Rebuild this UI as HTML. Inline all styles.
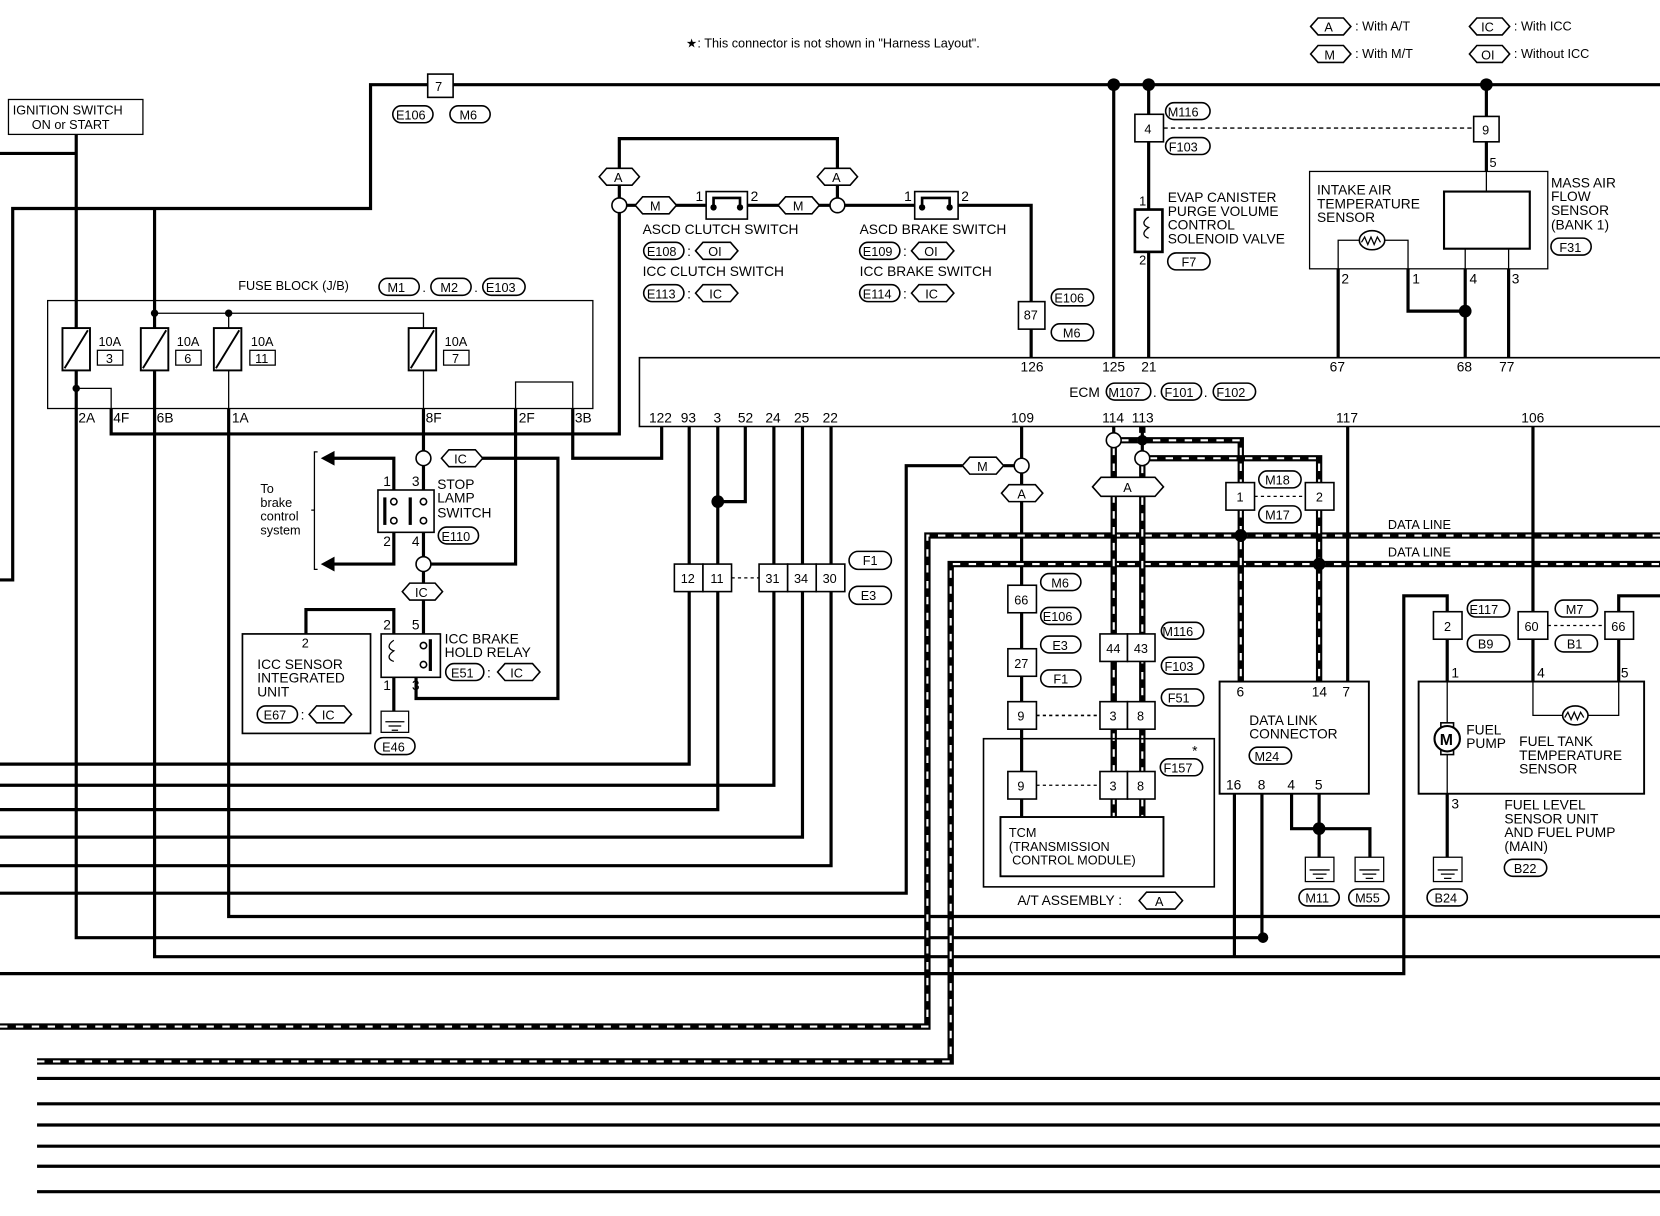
<!DOCTYPE html>
<html><head><meta charset="utf-8"><style>
html,body{margin:0;padding:0;background:#fff}
svg{display:block}
text{font-family:"Liberation Sans",Arial,sans-serif;font-size:13px;fill:#000}
.w{fill:none;stroke:#000;stroke-width:3}
.t{fill:none;stroke:#000;stroke-width:1.2}
.b{fill:#fff;stroke:#000;stroke-width:1.5}
.dl{fill:none;stroke:#000;stroke-width:6}
.dw{fill:none;stroke:#fff;stroke-width:2;stroke-dasharray:7 8}
.s{font-size:12px}
</style></head><body>
<svg width="1660" height="1216" viewBox="0 0 1568 1149" preserveAspectRatio="none" xmlns="http://www.w3.org/2000/svg">
<!-- header -->
<text x="648" y="45" class="s">★: This connector is not shown in "Harness Layout".</text>
<polygon class="b" points="1238,25 1245,17 1269,17 1276,25 1269,33 1245,33"/><text x="1251" y="30" class="s">A</text><text x="1280" y="29" class="s">: With A/T</text>
<polygon class="b" points="1238,51 1245,43 1269,43 1276,51 1269,59 1245,59"/><text x="1251" y="56" class="s">M</text><text x="1280" y="55" class="s">: With M/T</text>
<polygon class="b" points="1388,25 1395,17 1419,17 1426,25 1419,33 1395,33"/><text x="1399" y="30" class="s">IC</text><text x="1430" y="29" class="s">: With ICC</text>
<polygon class="b" points="1388,51 1395,43 1419,43 1426,51 1419,59 1395,59"/><text x="1399" y="56" class="s">OI</text><text x="1430" y="55" class="s">: Without ICC</text>

<!-- top bus and left -->
<path class="w" d="M0,548 H12 V197 H350 V80 H1568"/>
<rect class="b" x="404" y="70" width="24" height="22"/><text x="411" y="86" class="s">7</text>
<rect class="b" x="371" y="100" width="38" height="16" rx="8"/><text x="374" y="113" class="s">E106</text>
<rect class="b" x="425" y="100" width="38" height="16" rx="8"/><text x="434" y="113" class="s">M6</text>
<rect class="t" x="8" y="94" width="127" height="33"/>
<text x="12" y="108" class="s">IGNITION SWITCH</text><text x="30" y="122" class="s">ON or START</text>
<path class="w" d="M0,145 H72 M72,127 V310 M72,350 V386"/>
<path class="w" d="M72,386 V886 H1193"/>
<circle cx="1193" cy="886" r="5"/>
<path class="w" d="M146,197 V310 M146,350 V904 H1568"/>
<path class="w" d="M216,386 V866 H1568"/>

<!-- fuse block -->
<text x="225" y="274" class="s">FUSE BLOCK (J/B)</text>
<rect class="b" x="358" y="263" width="38" height="16" rx="8"/><text x="366" y="276" class="s">M1</text>
<text x="399" y="276" class="s">.</text>
<rect class="b" x="407" y="263" width="38" height="16" rx="8"/><text x="416" y="276" class="s">M2</text>
<text x="448" y="276" class="s">.</text>
<rect class="b" x="456" y="263" width="40" height="16" rx="8"/><text x="459" y="276" class="s">E103</text>
<rect class="t" x="45" y="284" width="515" height="102"/>
<path class="t" d="M146,296 H400 V310 M216,296 V310 M216,350 V386 M400,350 V386 M72,367 H105 V386 M487,386 V361 H541 V386"/>
<circle cx="146" cy="296" r="3.5"/><circle cx="216" cy="296" r="3.5"/><circle cx="72" cy="367" r="3.5"/>
<g class="b" style="stroke-width:1.8">
<rect x="59" y="310" width="26" height="40"/><rect x="133" y="310" width="26" height="40"/><rect x="202" y="310" width="26" height="40"/><rect x="386" y="310" width="26" height="40"/>
</g>
<path class="t" style="stroke-width:1.8" d="M61,348 L83,312 M135,348 L157,312 M204,348 L226,312 M388,348 L410,312"/>
<text x="93" y="327" class="s">10A</text><rect class="t" x="92" y="331" width="24" height="14"/><text x="100" y="343" class="s">3</text>
<text x="167" y="327" class="s">10A</text><rect class="t" x="166" y="331" width="24" height="14"/><text x="174" y="343" class="s">6</text>
<text x="237" y="327" class="s">10A</text><rect class="t" x="236" y="331" width="24" height="14"/><text x="241" y="343" class="s">11</text>
<text x="420" y="327" class="s">10A</text><rect class="t" x="419" y="331" width="24" height="14"/><text x="427" y="343" class="s">7</text>
<g class="s"><text x="74" y="399">2A</text><text x="107" y="399">4F</text><text x="148" y="399">6B</text><text x="219" y="399">1A</text><text x="402" y="399">8F</text><text x="490" y="399">2F</text><text x="543" y="399">3B</text></g>
<path class="w" d="M105,386 V410 H585 V201"/>
<path class="w" d="M541,386 V433 H625 V403"/>
<path class="w" d="M487,386 V533 H407"/>

<!-- stop lamp -->
<path class="w" d="M400,386 V426 M400,440 V471 M400,497 V526 M400,540 V599"/>
<path class="w" d="M443,433 H527 V660 H393 V640"/>
<circle class="b" cx="400" cy="433" r="7"/><circle class="b" cx="400" cy="533" r="7"/>
<polygon class="b" points="417,433 424,425 449,425 456,433 449,441 424,441"/><text x="429" y="438" class="s">IC</text>
<polygon class="b" points="380,559 387,551 411,551 418,559 411,567 387,567"/><text x="392" y="564" class="s">IC</text>
<path class="w" d="M372,471 V433 H312 M372,497 V533 H312"/>
<polygon points="303,433 316,426 316,440"/><polygon points="303,533 316,526 316,540"/>
<path class="t" d="M300,427 H297 V538 H300 M297,482 H294"/>
<text x="246" y="466" class="s">To</text><text x="246" y="479" class="s">brake</text><text x="246" y="492" class="s">control</text><text x="246" y="505" class="s">system</text>
<rect class="b" x="357" y="463" width="53" height="40"/>
<rect x="362" y="470" width="3" height="26"/><rect x="386" y="470" width="3" height="26"/>
<circle class="b" cx="372" cy="474" r="3"/><circle class="b" cx="372" cy="492" r="3"/><circle class="b" cx="400" cy="474" r="3"/><circle class="b" cx="400" cy="492" r="3"/>
<g class="s"><text x="362" y="459">1</text><text x="389" y="459">3</text><text x="362" y="516">2</text><text x="389" y="516">4</text></g>
<text x="413" y="462">STOP</text><text x="413" y="475">LAMP</text><text x="413" y="489">SWITCH</text>
<rect class="b" x="414" y="498" width="38" height="16" rx="8"/><text x="417" y="511" class="s">E110</text>

<!-- ICC sensor / relay -->
<path class="w" d="M289,599 V576 H372 V599 M372,640 V672"/>
<rect class="t" style="stroke-width:1.6" x="229" y="599" width="121" height="94"/>
<text x="285" y="612" class="s">2</text>
<text x="243" y="632">ICC SENSOR</text><text x="243" y="645">INTEGRATED</text><text x="243" y="658">UNIT</text>
<rect class="b" x="243" y="667" width="38" height="16" rx="8"/><text x="249" y="680" class="s">E67</text><text x="284" y="680">:</text>
<polygon class="b" points="292,675 299,667 325,667 332,675 325,683 299,683"/><text x="304" y="680" class="s">IC</text>
<rect class="b" x="360" y="599" width="56" height="41"/>
<rect x="405" y="604" width="3" height="30"/>
<circle class="b" cx="400" cy="610" r="3"/><circle class="b" cx="400" cy="628" r="3"/>
<path class="t" d="M372,605 c-6,4 -6,8 0,10 c-6,4 -6,8 0,10"/>
<g class="s"><text x="362" y="595">2</text><text x="389" y="595">5</text><text x="362" y="652">1</text><text x="389" y="652">3</text></g>
<text x="420" y="608">ICC BRAKE</text><text x="420" y="621">HOLD RELAY</text>
<rect class="b" x="421" y="627" width="36" height="16" rx="8"/><text x="426" y="640" class="s">E51</text><text x="460" y="640">:</text>
<polygon class="b" points="470,635 477,627 503,627 510,635 503,643 477,643"/><text x="482" y="640" class="s">IC</text>
<rect class="t" x="360" y="672" width="26" height="20"/><path class="t" d="M364,682 H382 M367,686 H379 M370,690 H376"/>
<rect class="b" x="354" y="697" width="38" height="16" rx="8"/><text x="361" y="710" class="s">E46</text>

<!-- A/M loop + switches -->
<path class="w" d="M585,187 V131 H791 V187 M592,194 H667 M706,194 H784 M798,194 H864 M905,194 H974 V338"/>
<polygon class="b" points="566,167 573,159 597,159 604,167 597,175 573,175"/><text x="580" y="172" class="s">A</text>
<polygon class="b" points="772,167 779,159 803,159 810,167 803,175 779,175"/><text x="786" y="172" class="s">A</text>
<circle class="b" cx="585" cy="194" r="7"/><circle class="b" cx="791" cy="194" r="7"/>
<polygon class="b" points="600,194 607,186 632,186 639,194 632,202 607,202"/><text x="614" y="199" class="s">M</text>
<polygon class="b" points="735,194 742,186 767,186 774,194 767,202 742,202"/><text x="749" y="199" class="s">M</text>
<rect class="b" x="667" y="181" width="39" height="26"/><path class="w" style="stroke-width:2.5" d="M674,196 V187 H699 V196"/><circle cx="674" cy="196" r="3"/><circle cx="699" cy="196" r="3"/>
<rect class="b" x="864" y="181" width="41" height="26"/><path class="w" style="stroke-width:2.5" d="M871,196 V187 H897 V196"/><circle cx="871" cy="196" r="3"/><circle cx="897" cy="196" r="3"/>
<g class="s"><text x="657" y="190">1</text><text x="709" y="190">2</text><text x="854" y="190">1</text><text x="908" y="190">2</text></g>
<text x="607" y="221">ASCD CLUTCH SWITCH</text>
<rect class="b" x="608" y="229" width="38" height="16" rx="8"/><text x="611" y="242" class="s">E108</text><text x="649" y="242">:</text>
<polygon class="b" points="657,237 664,229 690,229 697,237 690,245 664,245"/><text x="669" y="242" class="s">OI</text>
<text x="607" y="261">ICC CLUTCH SWITCH</text>
<rect class="b" x="608" y="269" width="38" height="16" rx="8"/><text x="611" y="282" class="s">E113</text><text x="649" y="282">:</text>
<polygon class="b" points="657,277 664,269 690,269 697,277 690,285 664,285"/><text x="670" y="282" class="s">IC</text>
<text x="812" y="221">ASCD BRAKE SWITCH</text>
<rect class="b" x="812" y="229" width="38" height="16" rx="8"/><text x="815" y="242" class="s">E109</text><text x="853" y="242">:</text>
<polygon class="b" points="861,237 868,229 894,229 901,237 894,245 868,245"/><text x="873" y="242" class="s">OI</text>
<text x="812" y="261">ICC BRAKE SWITCH</text>
<rect class="b" x="812" y="269" width="38" height="16" rx="8"/><text x="815" y="282" class="s">E114</text><text x="853" y="282">:</text>
<polygon class="b" points="861,277 868,269 894,269 901,277 894,285 868,285"/><text x="874" y="282" class="s">IC</text>
<rect class="b" x="962" y="285" width="25" height="26"/><text x="967" y="302" class="s">87</text>
<rect class="b" x="993" y="273" width="40" height="16" rx="8"/><text x="996" y="286" class="s">E106</text>
<rect class="b" x="993" y="306" width="40" height="16" rx="8"/><text x="1004" y="319" class="s">M6</text>

<!-- evap -->
<path class="w" d="M1052,80 V338 M1085,80 V338"/>
<circle cx="1052" cy="80" r="6"/><circle cx="1085" cy="80" r="6"/>
<rect class="b" x="1072" y="108" width="27" height="26"/><text x="1081" y="126" class="s">4</text>
<path class="t" style="stroke-dasharray:4 3" d="M1099,121 H1392"/>
<rect class="b" x="1101" y="97" width="42" height="16" rx="8"/><text x="1103" y="110" class="s">M116</text>
<rect class="b" x="1101" y="130" width="42" height="16" rx="8"/><text x="1104" y="143" class="s">F103</text>
<rect class="b" x="1072" y="198" width="26" height="40" style="stroke-width:2.5"/>
<path class="t" d="M1085,205 c-6,4 -6,8 0,10 c-6,4 -6,8 0,10"/>
<text x="1076" y="194" class="s">1</text><text x="1076" y="250" class="s">2</text>
<text x="1103" y="191">EVAP CANISTER</text><text x="1103" y="204">PURGE VOLUME</text><text x="1103" y="217">CONTROL</text><text x="1103" y="230">SOLENOID VALVE</text>
<rect class="b" x="1103" y="239" width="40" height="16" rx="8"/><text x="1116" y="252" class="s">F7</text>

<!-- MAF / IAT -->
<path class="w" d="M1404,80 V162"/><circle cx="1404" cy="80" r="6"/>
<rect class="b" x="1392" y="110" width="24" height="24"/><text x="1400" y="127" class="s">9</text>
<text x="1407" y="158" class="s">5</text>
<rect class="t" x="1237" y="162" width="225" height="92"/>
<rect class="t" style="stroke-width:2" x="1364" y="181" width="81" height="54"/>
<path class="t" d="M1404,162 V181 M1384,235 V254 M1425,235 V254 M1264,254 V227 H1284 M1308,227 H1330 V254"/>
<ellipse class="b" cx="1296" cy="227" rx="12" ry="9"/><path class="t" d="M1286,229 l3,-5 3,7 3,-7 3,7 3,-7 3,5"/>
<text x="1244" y="184">INTAKE AIR</text><text x="1244" y="197">TEMPERATURE</text><text x="1244" y="210">SENSOR</text>
<text x="1465" y="177">MASS AIR</text><text x="1465" y="190">FLOW</text><text x="1465" y="203">SENSOR</text><text x="1465" y="217">(BANK 1)</text>
<rect class="b" x="1465" y="225" width="38" height="16" rx="8"/><text x="1473" y="238" class="s">F31</text>
<path class="w" d="M1264,254 V338 M1330,254 V294 H1384 M1384,254 V338 M1425,254 V338"/>
<circle cx="1384" cy="294" r="6"/>
<g class="s"><text x="1267" y="268">2</text><text x="1334" y="268">1</text><text x="1388" y="268">4</text><text x="1428" y="268">3</text></g>

<!-- ECM -->
<path class="t" style="stroke-width:1.5" d="M1568,338 H604 V403 H1568"/>
<g class="s"><text x="964" y="351">126</text><text x="1041" y="351">125</text><text x="1078" y="351">21</text><text x="1256" y="351">67</text><text x="1376" y="351">68</text><text x="1416" y="351">77</text></g>
<text x="1010" y="375">ECM</text>
<rect class="b" x="1045" y="362" width="42" height="16" rx="8"/><text x="1047" y="375" class="s">M107</text><text x="1089" y="375">.</text>
<rect class="b" x="1097" y="362" width="38" height="16" rx="8"/><text x="1100" y="375" class="s">F101</text><text x="1137" y="375">.</text>
<rect class="b" x="1146" y="362" width="40" height="16" rx="8"/><text x="1149" y="375" class="s">F102</text>
<g class="s"><text x="613" y="399">122</text><text x="643" y="399">93</text><text x="674" y="399">3</text><text x="697" y="399">52</text><text x="723" y="399">24</text><text x="750" y="399">25</text><text x="777" y="399">22</text><text x="955" y="399">109</text><text x="1041" y="399">114</text><text x="1069" y="399">113</text><text x="1262" y="399">117</text><text x="1437" y="399">106</text></g>

<!-- ECM left pins -->
<path class="w" d="M651,403 V722 H0 M731,403 V742 H0 M678,403 V765 H0 M704,403 V474 H678 M758,403 V791 H0 M785,403 V818 H0"/>
<circle cx="678" cy="474" r="6"/>
<rect class="b" x="637" y="533" width="27" height="26"/><rect class="b" x="664" y="533" width="27" height="26"/>
<text x="643" y="551" class="s">12</text><text x="671" y="551" class="s">11</text>
<path class="t" style="stroke-dasharray:3 3" d="M691,546 H717"/>
<rect class="b" x="717" y="533" width="27" height="26"/><rect class="b" x="744" y="533" width="27" height="26"/><rect class="b" x="771" y="533" width="27" height="26"/>
<text x="723" y="551" class="s">31</text><text x="750" y="551" class="s">34</text><text x="777" y="551" class="s">30</text>
<rect class="b" x="802" y="521" width="40" height="17" rx="8.5"/><text x="815" y="534" class="s">F1</text>
<rect class="b" x="802" y="554" width="40" height="17" rx="8.5"/><text x="813" y="567" class="s">E3</text>

<!-- 109 / TCM -->
<path class="w" d="M965,403 V433 M958,440 H948 M909,440 H856 V844 H0 M965,447 V772"/>
<circle class="b" cx="965" cy="440" r="7"/>
<polygon class="b" points="909,440 916,432 941,432 948,440 941,448 916,448"/><text x="923" y="445" class="s">M</text>
<polygon class="b" points="946,466 953,458 978,458 985,466 978,474 953,474"/><text x="961" y="471" class="s">A</text>

<!-- data lines -->
<path class="dl" d="M0,970 H876 V506 H1568"/><path class="dw" d="M0,970 H876 V506 H1568"/>
<path class="dl" d="M35,1003 H898 V533 H1568"/><path class="dw" d="M35,1003 H898 V533 H1568"/>
<text x="1311" y="500" class="s">DATA LINE</text><text x="1311" y="526" class="s">DATA LINE</text>

<rect class="b" x="952" y="553" width="27" height="26"/><text x="958" y="571" class="s">66</text>
<rect class="b" x="983" y="542" width="38" height="16" rx="8"/><text x="993" y="555" class="s">M6</text>
<rect class="b" x="983" y="574" width="38" height="16" rx="8"/><text x="985" y="587" class="s">E106</text>
<rect class="b" x="952" y="613" width="27" height="26"/><text x="958" y="631" class="s">27</text>
<rect class="b" x="983" y="601" width="38" height="16" rx="8"/><text x="994" y="614" class="s">E3</text>
<rect class="b" x="983" y="633" width="38" height="16" rx="8"/><text x="995" y="646" class="s">F1</text>

<!-- 114/113 data lines -->
<path class="dl" d="M1052,423 V772 M1079,403 V409 M1079,440 V772 M1059,416 H1172 V456 M1086,433 H1246 V456 M1172,482 V644 M1246,482 V644"/>
<path class="dw" d="M1052,423 V772 M1079,440 V772 M1059,416 H1172 V456 M1086,433 H1246 V456 M1172,482 V644 M1246,482 V644"/>
<path class="w" d="M1052,403 V409 M1079,403 V426"/>
<circle class="b" cx="1052" cy="416" r="7"/><circle cx="1079" cy="416" r="5"/><circle class="b" cx="1079" cy="433" r="7"/>
<polygon class="b" points="1032,460 1040,451 1091,451 1099,460 1091,469 1040,469"/><text x="1061" y="465" class="s">A</text>
<rect class="b" x="1039" y="599" width="26" height="26"/><rect class="b" x="1065" y="599" width="26" height="26"/>
<text x="1045" y="617" class="s">44</text><text x="1071" y="617" class="s">43</text>
<rect class="b" x="1097" y="588" width="40" height="16" rx="8"/><text x="1098" y="601" class="s">M116</text>
<rect class="b" x="1097" y="621" width="40" height="16" rx="8"/><text x="1100" y="634" class="s">F103</text>
<rect class="b" x="1097" y="651" width="40" height="16" rx="8"/><text x="1103" y="664" class="s">F51</text>
<rect class="b" x="952" y="663" width="27" height="26"/><text x="961" y="681" class="s">9</text>
<path class="t" style="stroke-dasharray:3 3;stroke-width:1.5" d="M979,676 H1039"/>
<rect class="b" x="1039" y="663" width="26" height="26"/><rect class="b" x="1065" y="663" width="26" height="26"/>
<text x="1048" y="681" class="s">3</text><text x="1074" y="681" class="s">8</text>
<rect class="t" style="stroke-width:1.5" x="929" y="698" width="218" height="140"/>
<rect class="b" x="952" y="729" width="27" height="26"/><text x="961" y="747" class="s">9</text>
<path class="t" style="stroke-dasharray:3 3" d="M979,742 H1039"/>
<rect class="b" x="1039" y="729" width="26" height="26"/><rect class="b" x="1065" y="729" width="26" height="26"/>
<text x="1048" y="747" class="s">3</text><text x="1074" y="747" class="s">8</text>
<rect class="b" x="1096" y="717" width="40" height="16" rx="8"/><text x="1099" y="730" class="s">F157</text>
<text x="1126" y="714">*</text>
<rect class="b" x="945" y="772" width="154" height="56" style="stroke-width:1.8"/>
<text x="953" y="791" class="s">TCM</text><text x="953" y="804" class="s">(TRANSMISSION</text><text x="956" y="817" class="s">CONTROL MODULE)</text>
<text x="961" y="855">A/T ASSEMBLY :</text>
<polygon class="b" points="1076,851 1083,843 1110,843 1117,851 1110,859 1083,859"/><text x="1091" y="856" class="s">A</text>

<!-- data link connector -->
<path class="w" d="M1273,403 V644"/>
<circle cx="1172" cy="506" r="6"/><circle cx="1246" cy="533" r="6"/>
<rect class="b" x="1158" y="456" width="27" height="26"/><text x="1168" y="474" class="s">1</text>
<rect class="b" x="1233" y="456" width="27" height="26"/><text x="1243" y="474" class="s">2</text>
<path class="t" style="stroke-dasharray:3 3" d="M1185,469 H1233"/>
<rect class="b" x="1189" y="445" width="40" height="16" rx="8"/><text x="1195" y="458" class="s">M18</text>
<rect class="b" x="1189" y="478" width="40" height="16" rx="8"/><text x="1195" y="491" class="s">M17</text>
<rect class="t" style="stroke-width:1.8" x="1152" y="644" width="141" height="106"/>
<g class="s"><text x="1168" y="658">6</text><text x="1239" y="658">14</text><text x="1268" y="658">7</text><text x="1158" y="746">16</text><text x="1188" y="746">8</text><text x="1216" y="746">4</text><text x="1242" y="746">5</text></g>
<text x="1180" y="685">DATA LINK</text><text x="1180" y="698">CONNECTOR</text>
<rect class="b" x="1180" y="706" width="40" height="16" rx="8"/><text x="1185" y="719" class="s">M24</text>
<path class="w" d="M1166,750 V904 M1192,750 V886 M1220,750 V783 H1294 V810 M1246,750 V810"/>
<circle cx="1246" cy="783" r="6"/>
<rect class="t" x="1233" y="810" width="27" height="23"/><path class="t" d="M1237,822 H1256 M1240,826 H1253 M1243,830 H1250"/>
<rect class="t" x="1280" y="810" width="27" height="23"/><path class="t" d="M1284,822 H1303 M1287,826 H1300 M1290,830 H1297"/>
<rect class="b" x="1227" y="840" width="38" height="16" rx="8"/><text x="1233" y="853" class="s">M11</text>
<rect class="b" x="1274" y="840" width="38" height="16" rx="8"/><text x="1280" y="853" class="s">M55</text>

<!-- fuel -->
<path class="w" d="M0,920 H1326 V563 H1367 V578 M1367,604 V644 M1367,750 V810 M1448,403 V578 M1448,604 V644 M1529,604 V644 M1529,578 V563 H1568"/>
<rect class="b" x="1354" y="578" width="27" height="26"/><text x="1364" y="596" class="s">2</text>
<rect class="b" x="1386" y="567" width="40" height="16" rx="8"/><text x="1388" y="580" class="s">E117</text>
<rect class="b" x="1386" y="600" width="40" height="16" rx="8"/><text x="1396" y="613" class="s">B9</text>
<rect class="b" x="1434" y="578" width="28" height="26"/><text x="1440" y="596" class="s">60</text>
<path class="t" style="stroke-dasharray:3 3" d="M1462,591 H1516"/>
<rect class="b" x="1516" y="578" width="27" height="26"/><text x="1522" y="596" class="s">66</text>
<rect class="b" x="1469" y="567" width="40" height="16" rx="8"/><text x="1479" y="580" class="s">M7</text>
<rect class="b" x="1469" y="600" width="40" height="16" rx="8"/><text x="1480" y="613" class="s">B1</text>
<rect class="t" style="stroke-width:1.8" x="1340" y="644" width="213" height="106"/>
<g class="s"><text x="1371" y="640">1</text><text x="1452" y="640">4</text><text x="1531" y="640">5</text><text x="1371" y="764">3</text></g>
<path class="t" d="M1367,644 V684 M1367,712 V750 M1448,644 V676 H1477 M1499,676 H1529 V644"/>
<ellipse class="b" cx="1488" cy="676" rx="12" ry="9"/><path class="t" d="M1478,678 l3,-5 3,7 3,-7 3,7 3,-7 3,5"/>
<rect class="b" x="1361" y="683" width="12" height="30"/>
<circle class="b" cx="1367" cy="698" r="12" style="stroke-width:2"/><text x="1360" y="704" style="font-size:15px;font-weight:bold">M</text>
<text x="1385" y="694">FUEL</text><text x="1385" y="707">PUMP</text>
<text x="1435" y="705">FUEL TANK</text><text x="1435" y="718">TEMPERATURE</text><text x="1435" y="731">SENSOR</text>
<text x="1421" y="765">FUEL LEVEL</text><text x="1421" y="778">SENSOR UNIT</text><text x="1421" y="791">AND FUEL PUMP</text><text x="1421" y="804">(MAIN)</text>
<rect class="b" x="1421" y="812" width="40" height="16" rx="8"/><text x="1430" y="825" class="s">B22</text>
<rect class="t" x="1354" y="810" width="27" height="23"/><path class="t" d="M1358,822 H1377 M1361,826 H1374 M1364,830 H1371"/>
<rect class="b" x="1348" y="840" width="38" height="16" rx="8"/><text x="1355" y="853" class="s">B24</text>

<!-- bottom lines -->
<path class="w" d="M35,1019 H1568 M35,1043 H1568 M35,1063 H1568 M35,1083 H1568 M35,1102 H1568 M35,1126 H1568"/>
</svg>
</body></html>
